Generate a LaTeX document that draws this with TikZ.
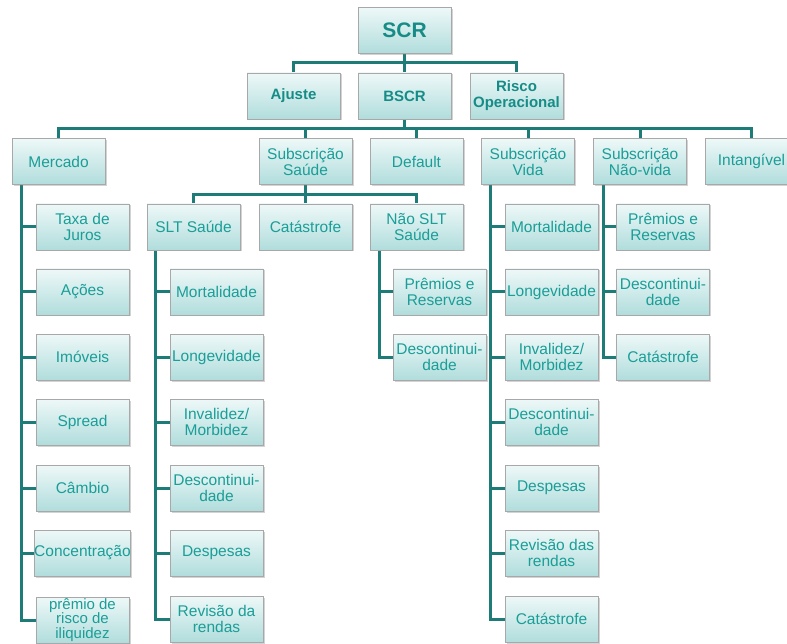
\documentclass[tikz,border=0pt]{standalone}
\usepackage{fontspec}
\setmainfont{Liberation Sans}
\usetikzlibrary{shadows,backgrounds}
\definecolor{lineteal}{HTML}{1E7C78}
\definecolor{txtteal}{HTML}{1A9E98}
\definecolor{boldteal}{HTML}{168C87}
\definecolor{boxtop}{HTML}{EEF8F8}
\definecolor{boxbot}{HTML}{B0DDDC}
\definecolor{boxborder}{HTML}{A8A8A8}
\tikzset{
 box/.style={draw=boxborder, line width=0.8pt, top color=boxtop, bottom color=boxbot,
   minimum width=93pt, minimum height=46pt, inner xsep=0pt, inner ysep=1pt, align=center,
   text=txtteal, font=\fontsize{15.5}{16}\selectfont,
   drop shadow={shadow xshift=1.5pt, shadow yshift=-1.5pt, opacity=0.35}},
 topbox/.style={box, text=boldteal, font=\fontsize{15}{16}\selectfont\bfseries},
 conn/.style={draw=lineteal, line width=3pt},
}
\begin{document}
\begin{tikzpicture}[x=1pt,y=-1pt]
\useasboundingbox (0,0) rectangle (787,644);
% level 0/1
\node[topbox, font=\fontsize{21}{22}\selectfont\bfseries] (SCR) at (404.5,30.5) {SCR};
\node[topbox] (Ajuste) at (293.5,96) {Ajuste};
\node[topbox] (BSCR) at (404.5,96) {BSCR};
\node[topbox] (RiscoOp) at (516.5,96) {Risco\\Operacional};
% level 2
\node[box] (Mercado) at (58.5,161.5) {Mercado};
\node[box] (SubSaude) at (305.5,161.5) {Subscrição\\Saúde};
\node[box] (Default) at (416.5,161.5) {Default};
\node[box] (SubVida) at (528,161.5) {Subscrição\\Vida};
\node[box] (SubNaoVida) at (640,161.5) {Subscrição\\Não-vida};
\node[box] (Intangivel) at (751.5,161.5) {Intangível};
% Mercado children
\node[box] (M1) at (82.5,227) {Taxa de\\Juros};
\node[box] (M2) at (82.5,292) {Ações};
\node[box] (M3) at (82.5,357) {Imóveis};
\node[box] (M4) at (82.5,422) {Spread};
\node[box] (M5) at (82.5,488) {Câmbio};
\node[box] (M6) at (82.5,553) {Concentração};
\node[box, font=\fontsize{15}{14.5}\selectfont] (M7) at (82.5,620) {prêmio de\\risco de\\iliquidez};
% Saude children
\node[box] (SLT) at (193.5,227) {SLT Saúde};
\node[box] (CatS) at (305.5,227) {Catástrofe};
\node[box] (NSLT) at (416.5,227) {Não SLT\\Saúde};
% SLT children
\node[box] (S1) at (216.5,292) {Mortalidade};
\node[box] (S2) at (216.5,357) {Longevidade};
\node[box] (S3) at (216.5,422) {Invalidez/\\Morbidez};
\node[box] (S4) at (216.5,488) {Descontinui-\\dade};
\node[box] (S5) at (216.5,553) {Despesas};
\node[box] (S6) at (216.5,619) {Revisão da\\rendas};
% Nao SLT children
\node[box] (N1) at (439.5,292) {Prêmios e\\Reservas};
\node[box] (N2) at (439.5,357) {Descontinui-\\dade};
% Vida children
\node[box] (V1) at (551.5,227) {Mortalidade};
\node[box] (V2) at (551.5,292) {Longevidade};
\node[box] (V3) at (551.5,357) {Invalidez/\\Morbidez};
\node[box] (V4) at (551.5,422) {Descontinui-\\dade};
\node[box] (V5) at (551.5,488) {Despesas};
\node[box] (V6) at (551.5,553) {Revisão das\\rendas};
\node[box] (V7) at (551.5,619) {Catástrofe};
% Nao-vida children
\node[box] (NV1) at (663,227) {Prêmios e\\Reservas};
\node[box] (NV2) at (663,292) {Descontinui-\\dade};
\node[box] (NV3) at (663,357) {Catástrofe};
% connectors
\begin{scope}[on background layer]
\coordinate (b0) at (404.5,62.5);
\draw[conn] (SCR.south) -- (b0);
\foreach \c in {Ajuste,BSCR,RiscoOp} \draw[conn] (b0) -| (\c.north);
\coordinate (b1) at (404.5,128.5);
\draw[conn] (BSCR.south) -- (b1);
\foreach \c in {Mercado,SubSaude,Default,SubVida,SubNaoVida,Intangivel} \draw[conn] (b1) -| (\c.north);
\coordinate (b2) at (305.5,194.5);
\draw[conn] (SubSaude.south) -- (b2);
\foreach \c in {SLT,CatS,NSLT} \draw[conn] (b2) -| (\c.north);
\coordinate (mv) at ([xshift=10pt]Mercado.south west);
\foreach \c in {M1,M2,M3,M4,M5,M6,M7} \draw[conn] (mv) |- (\c.west);
\coordinate (sv) at ([xshift=9pt]SLT.south west);
\foreach \c in {S1,S2,S3,S4,S5,S6} \draw[conn] (sv) |- (\c.west);
\coordinate (nv) at ([xshift=10pt]NSLT.south west);
\foreach \c in {N1,N2} \draw[conn] (nv) |- (\c.west);
\coordinate (vv) at ([xshift=9pt]SubVida.south west);
\foreach \c in {V1,V2,V3,V4,V5,V6,V7} \draw[conn] (vv) |- (\c.west);
\coordinate (nvv) at ([xshift=10pt]SubNaoVida.south west);
\foreach \c in {NV1,NV2,NV3} \draw[conn] (nvv) |- (\c.west);
\end{scope}
\end{tikzpicture}
\end{document}
